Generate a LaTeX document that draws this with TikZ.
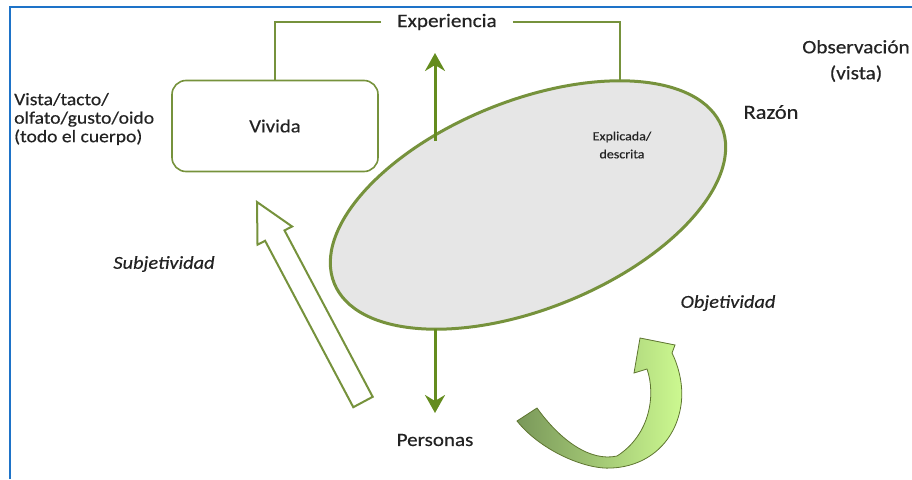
\documentclass[tikz,border=0pt]{standalone}
\usepackage{fontspec}
\setmainfont[FakeStretch=1.12,FakeBold=0.4]{Carlito}
\usetikzlibrary{shapes.geometric,arrows.meta}
\definecolor{gline}{RGB}{118,146,60}
\definecolor{garr}{RGB}{100,140,30}
\definecolor{frameblue}{RGB}{30,115,200}
\definecolor{ellfill}{RGB}{230,230,230}
\definecolor{tailgreen}{RGB}{122,152,90}
\definecolor{headgreen}{RGB}{205,250,145}
\definecolor{txt}{RGB}{35,35,35}
\tikzset{
  lbl/.style={text=txt, inner sep=0pt, font=\fontsize{19}{21}\selectfont},
  conn/.style={draw=gline, line width=2.6pt},
  varrow/.style={draw=garr, line width=3pt, -{Stealth[length=18pt,width=20pt,inset=6pt]}},
}
\begin{document}
\begin{tikzpicture}[x=1pt,y=-1pt]
\useasboundingbox (0,0) rectangle (912,479);
% frame
\draw[frameblue, line width=2pt] (10,479) -- (10,7) -- (912,7);
% ellipse
\node[ellipse, draw=gline, line width=3pt, fill=ellfill, minimum width=418pt, minimum height=208pt, inner sep=0pt, rotate=22] (raz) at (528,205) {};
\node[lbl, font=\fontsize{12.5}{18}\selectfont, align=center] (expl) at (622,145) {Explicada/\\descrita};
% texts
\node[lbl] (exp) at (447,22) {Experiencia};
\node[draw=gline, line width=1.6pt, rounded corners=14pt, minimum width=206pt, minimum height=91pt, inner sep=0pt, lbl, font=\fontsize{18.5}{21}\selectfont] (viv) at (275,126) {Vivida};
\node[lbl, font=\fontsize{17.5}{18.5}\selectfont, align=left, anchor=west] (sent) at (14,119) {Vista/tacto/\\olfato/gusto/oido\\(todo el cuerpo)};
\node[lbl, align=center, font=\fontsize{19}{26}\selectfont] (obs) at (856,61) {Observación\\(vista)};
\node[lbl, font=\fontsize{20}{22}\selectfont] (razon) at (771,112) {Razón};
\node[lbl, font=\fontsize{18.2}{20}\selectfont\itshape] (subj) at (164,264) {Subjetividad};
\node[lbl, font=\fontsize{18.2}{20}\selectfont\itshape] (obj) at (728,303) {Objetividad};
\node[lbl, font=\fontsize{18.8}{21}\selectfont] (pers) at (435,440) {Personas};
% connectors
\coordinate (etop) at (620,80);
\draw[conn] ([xshift=-16pt]exp.west) -| (viv.north);
\draw[conn] ([xshift=16pt]exp.east) -| (etop);
\coordinate (upstart) at (435,141);
\coordinate (uptip) at (435,53);
\coordinate (dnstart) at (435,329);
\coordinate (dntip) at (435,413);
\draw[varrow] (upstart) -- (uptip);
\draw[varrow] (dnstart) -- (dntip);
% hollow arrow
\draw[gline, line width=2pt, fill=white, line join=miter]
  (353.3,407.2) -- (265.1,240.8) -- (257.5,244.7) -- (257,202)
  -- (292.1,226.5) -- (284.5,230.4) -- (372.7,396.8) -- cycle;
% curved arrow
\path[draw=gline!80!black, line width=0.8pt, left color=tailgreen, right color=headgreen]
  (517,421) .. controls (540,450) and (585,470) .. (612,468)
  .. controls (650,466) and (676,440) .. (681,405)
  .. controls (684,385) and (678,365) .. (672,353)
  -- (675,345) -- (640,338) -- (634,373) -- (647,369)
  .. controls (656,395) and (650,435) .. (617,456)
  .. controls (590,462) and (560,440) .. (537,408)
  -- cycle;
\end{tikzpicture}
\end{document}
